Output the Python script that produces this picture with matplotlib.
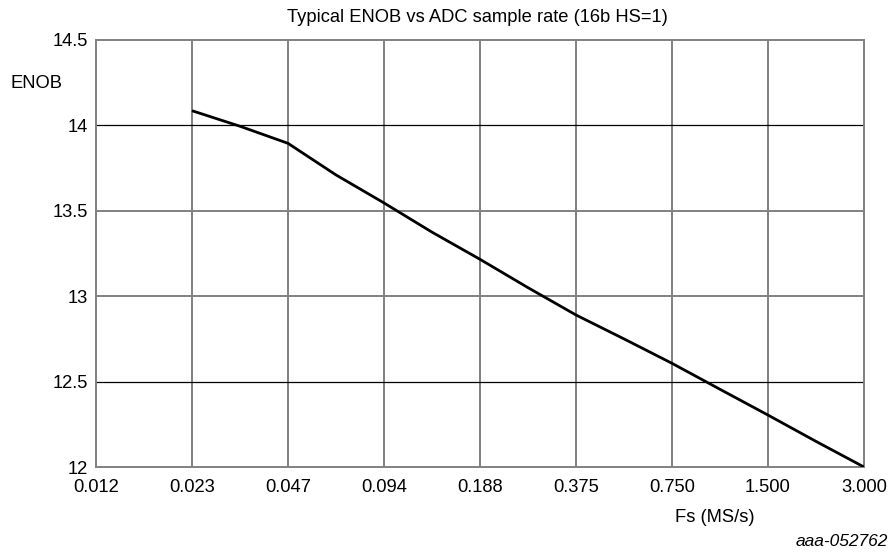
import matplotlib
matplotlib.use("Agg")
import matplotlib.pyplot as plt
import numpy as np

plt.rcParams['font.family'] = ['Liberation Sans', 'DejaVu Sans']

# x positions (MS/s) and tick labels
tick_vals = [3/256, 3/128, 3/64, 3/32, 3/16, 3/8, 3/4, 3/2, 3.0]
tick_labels = ["0.012", "0.023", "0.047", "0.094", "0.188", "0.375", "0.750", "1.500", "3.000"]

# curve
fs = [3/128, 3/128*2**0.5, 3/64, 3/64*2**0.5, 3/32, 3/32*2**0.5, 3/16, 3/16*2**0.5,
      3/8, 3/8*2**0.5, 3/4, 3/4*2**0.5, 3/2, 3/2*2**0.5, 3.0]
enob = [14.086, 13.995, 13.895, 13.71, 13.546, 13.375, 13.216, 13.05,
        12.89, 12.75, 12.607, 12.455, 12.304, 12.15, 12.0]

yticks = [12, 12.5, 13, 13.5, 14, 14.5]
ytick_labels = ["12", "12.5", "13", "13.5", "14", "14.5"]

fig = plt.figure(figsize=(8.91, 5.54), dpi=100)
ax = fig.add_axes([96/891, 1-467/554, (864-96)/891, (467-40)/554])

ax.set_xscale('log', base=2)
ax.set_xlim(tick_vals[0], tick_vals[-1])
ax.set_ylim(12, 14.5)

grey = '#808080'
for v in tick_vals[1:-1]:
    ax.axvline(v, color=grey, lw=1.4, zorder=1)
for yv in [13, 13.5]:
    ax.axhline(yv, color=grey, lw=1.4, zorder=1)
for yv in [12.5, 14]:
    ax.axhline(yv, color='black', lw=0.9, zorder=1)

ax.plot(fs, enob, color='black', lw=2.0, zorder=3, solid_capstyle='butt',
        solid_joinstyle='round')

for s in ax.spines.values():
    s.set_color(grey)
    s.set_linewidth(1.4)

ax.set_xticks(tick_vals)
ax.set_xticklabels(tick_labels)
ax.xaxis.set_minor_locator(matplotlib.ticker.NullLocator())
ax.set_yticks(yticks)
ax.set_yticklabels(ytick_labels)
ax.tick_params(axis='both', length=0, labelsize=13.2, colors='black')
ax.tick_params(axis='x', pad=9)
ax.tick_params(axis='y', pad=6)

fig.text(477/891, 1-17/554, "Typical ENOB vs ADC sample rate (16b HS=1)",
         ha='center', va='center', fontsize=13.2)
fig.text(10/891, 1-83/554, "ENOB", ha='left', va='center', fontsize=13.2)
fig.text(715/891, 1-517/554, "Fs (MS/s)", ha='center', va='center', fontsize=13.2)
fig.text(888/891, 1-542/554, "aaa-052762", ha='right', va='center',
         fontsize=12.5, style='italic')

fig.savefig("out.png", dpi=100)
